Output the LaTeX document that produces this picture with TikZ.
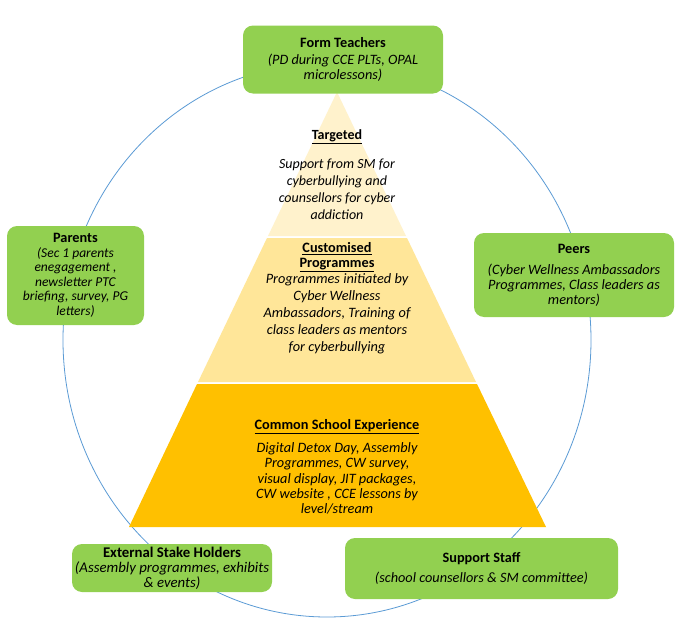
\documentclass[tikz,border=0pt]{standalone}
\usepackage{fontspec}
\setmainfont{Carlito}
\definecolor{boxgreen}{HTML}{92D050}
\definecolor{tierA}{HTML}{FFF2CC}
\definecolor{tierB}{HTML}{FFE699}
\definecolor{tierC}{HTML}{FFC000}
\definecolor{ringblue}{HTML}{5B9BD5}
\begin{document}
\begin{tikzpicture}[x=1pt,y=-1pt,
  box/.style={fill=boxgreen, rounded corners=10pt, align=center, inner sep=0pt,
    font=\fontsize{14.3}{15}\selectfont},
  ptext/.style={align=center, inner sep=0pt, font=\fontsize{14.3}{17}\selectfont},
  ring/.style={draw=ringblue, line width=0.8pt}]
\useasboundingbox (0,0) rectangle (681,629);
\fill[white] (0,0) rectangle (681,629);
% ring
\draw[ring] (327,340) ellipse [x radius=264, y radius=277];
% pyramid tiers
\fill[tierA] (337,92) -- (406,236) -- (268,236) -- cycle;
\fill[tierB] (267,238) -- (407,238) -- (476,382) -- (198,382) -- cycle;
\fill[tierC] (197,384) -- (477,384) -- (546,527) -- (129,527) -- cycle;
% pyramid texts
\node[ptext, font=\fontsize{14}{14}\selectfont\bfseries] (t1h) at (337,137) {\underline{Targeted}};
\node[ptext, font=\fontsize{14}{17}\selectfont\itshape] (t1b) at (337,189) {Support from SM for\\cyberbullying and\\counsellors for cyber\\addiction};
\node[ptext, font=\fontsize{14.3}{14.5}\selectfont\bfseries] (t2h) at (337,257) {\underline{Customised}\\\underline{Programmes}};
\node[ptext, font=\fontsize{14.3}{17}\selectfont\itshape] (t2b) at (337,313.5) {Programmes initiated by\\Cyber Wellness\\Ambassadors, Training of\\class leaders as mentors\\for cyberbullying};
\node[ptext, font=\fontsize{14.3}{14.5}\selectfont\bfseries] (t3h) at (337,427) {\underline{Common School Experience}};
\node[ptext, font=\fontsize{14.3}{15.3}\selectfont\itshape] (t3b) at (337,478.5) {Digital Detox Day, Assembly\\Programmes, CW survey,\\visual display, JIT packages,\\CW website , CCE lessons by\\level/stream};
% stakeholder boxes
\node[box, minimum width=200pt, minimum height=68pt] (ft) at (343,59.5)
  {\textbf{Form Teachers}\\[2pt]\textit{(PD during CCE PLTs, OPAL}\\\textit{microlessons)}};
\node[box, minimum width=137pt, minimum height=99pt, font=\fontsize{13.5}{14.5}\selectfont] (par) at (75.5,275.5)
  {\textbf{\fontsize{14.3}{14.5}\selectfont Parents}\\\textit{(Sec 1 parents}\\\textit{enegagement ,}\\\textit{newsletter PTC}\\\textit{briefing, survey, PG}\\\textit{letters)}};
\node[box, minimum width=200pt, minimum height=84pt] (peers) at (574,275)
  {\textbf{Peers}\\[6pt]\textit{(Cyber Wellness Ambassadors}\\\textit{Programmes, Class leaders as}\\\textit{mentors)}};
\node[box, minimum width=200pt, minimum height=48pt, font=\fontsize{14.8}{15}\selectfont] (ext) at (172,568)
  {\textbf{External Stake Holders}\\\textit{(Assembly programmes, exhibits}\\\textit{\& events)}};
\node[box, minimum width=273pt, minimum height=61pt] (sup) at (481.5,568.5)
  {\textbf{Support Staff}\\[5pt]\textit{(school counsellors \& SM committee)}};
\end{tikzpicture}
\end{document}
